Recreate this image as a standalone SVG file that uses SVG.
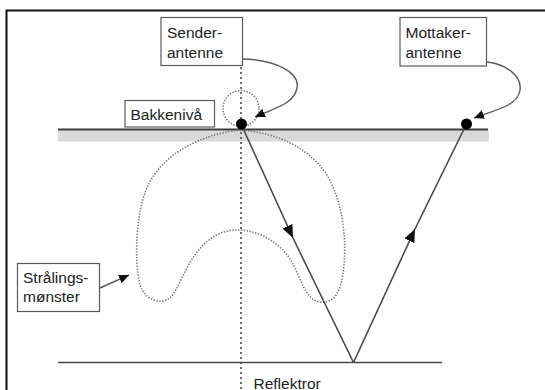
<svg xmlns="http://www.w3.org/2000/svg" width="545" height="390" viewBox="0 0 545 390">
  <defs>
    <style>
      .box { fill: #ffffff; stroke: #5a5a5a; stroke-width: 1.2; }
      .lbl { font-family: "Liberation Sans", Arial, sans-serif; font-size: 15.5px; fill: #222222; }
      .ray { fill: none; stroke: #4a4a4a; stroke-width: 1.6; }
      .pointer { fill: none; stroke: #5a5a5a; stroke-width: 1.4; }
      .dotted { fill: none; stroke: #7a7a7a; stroke-width: 1.6; stroke-dasharray: 1.4 1.5; }
      .axis { fill: none; stroke: #4a4a4a; stroke-width: 1.6; stroke-dasharray: 2 3; }
    </style>
    <marker id="rayHead" markerWidth="15" markerHeight="11" refX="13" refY="5.5" orient="auto" markerUnits="userSpaceOnUse">
      <path d="M0,0 L13,5.5 L0,11 Z" fill="#111111"/>
    </marker>
    <marker id="ptrHead" markerWidth="11" markerHeight="9" refX="10" refY="4.5" orient="auto" markerUnits="userSpaceOnUse">
      <path d="M0,0 L10,4.5 L0,9 Z" fill="#111111"/>
    </marker>
  </defs>

  <rect width="545" height="390" fill="#ffffff"/>

  <!-- outer frame -->
  <path d="M6.5,392 V10.5 H547" fill="none" stroke="#111111" stroke-width="2"/>

  <!-- ground level with shaded soil band -->
  <g id="ground">
    <rect x="58" y="130.5" width="431" height="11" fill="#d9d9d9"/>
    <line x1="58" y1="129.5" x2="488" y2="129.5" stroke="#3a3a3a" stroke-width="2"/>
  </g>

  <!-- reflector -->
  <g id="reflector">
    <line x1="58" y1="362.5" x2="442" y2="362.5" stroke="#4a4a4a" stroke-width="1.6"/>
  </g>

  <!-- vertical axis through transmitter -->
  <line class="axis" x1="241" y1="62" x2="241" y2="392"/>

  <!-- radiation pattern -->
  <g id="pattern">
    <path class="dotted" d="M241,130 C200,134 160,155 146,190 C136,215 134,260 140,285 C145,300 160,305 170,298 C178,290 185,268 195,255 C207,238 222,229 240,230 C262,231 282,245 292,262 C300,276 305,300 320,302 C335,304 342,290 344,265 C347,230 340,195 325,172 C305,145 275,133 241,130 Z"/>
    <circle class="dotted" cx="241" cy="108.5" r="18"/>
  </g>

  <!-- connectors -->
  <g id="connectors">
    <path class="ray" d="M241.5,125 L293,238 L353.5,362.5" marker-mid="url(#rayHead)"/>
    <path class="ray" d="M353.5,362.5 L415,229 L466.5,124" marker-mid="url(#rayHead)"/>
    <path class="pointer" d="M243,59 C275,60 300,72 297,88 C294,104 275,108 255,117" marker-end="url(#ptrHead)"/>
    <path class="pointer" d="M487,62 C505,64 522,75 520,90 C518,106 495,110 474,118" marker-end="url(#ptrHead)"/>
    <path class="pointer" d="M100,288 L129,275" marker-end="url(#ptrHead)"/>
  </g>

  <!-- antennas -->
  <g id="sender-dot">
    <circle cx="241.5" cy="124" r="5.5" fill="#000000"/>
  </g>
  <g id="receiver-dot">
    <circle cx="466.5" cy="124" r="5.5" fill="#000000"/>
  </g>

  <!-- labels -->
  <g id="sender-label">
    <rect class="box" x="161" y="17.5" width="81.5" height="48"/>
    <text class="lbl" x="167" y="37.5">Sender-</text>
    <text class="lbl" x="167" y="57.5">antenne</text>
  </g>
  <g id="receiver-label">
    <rect class="box" x="400" y="17.5" width="86.5" height="48.5"/>
    <text class="lbl" x="405.5" y="37.5">Mottaker-</text>
    <text class="lbl" x="405.5" y="57.5">antenne</text>
  </g>
  <g id="ground-label">
    <rect class="box" x="125" y="100.5" width="89.5" height="26.5"/>
    <text class="lbl" x="130.5" y="119.5">Bakkenivå</text>
  </g>
  <g id="pattern-label">
    <rect class="box" x="17.5" y="263.5" width="82" height="48"/>
    <text class="lbl" x="23" y="283">Strålings-</text>
    <text class="lbl" x="23" y="302">mønster</text>
  </g>
  <g id="reflector-label">
    <text class="lbl" x="253.5" y="388.5">Reflektror</text>
  </g>
</svg>
